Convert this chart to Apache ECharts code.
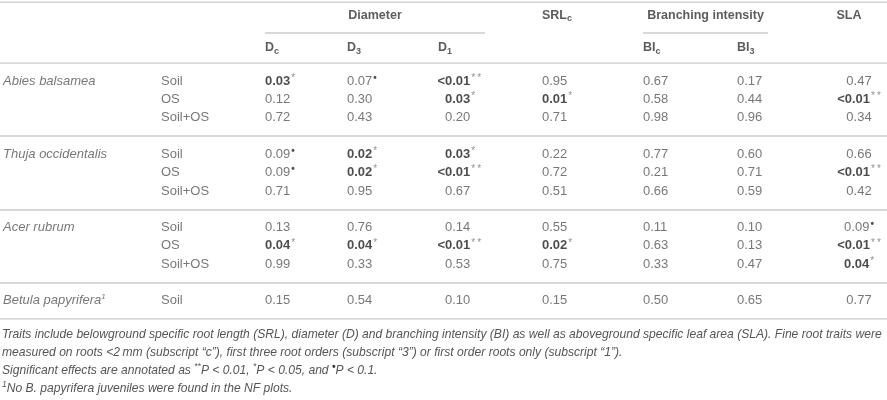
<!DOCTYPE html>
<html>
<head>
<meta charset="utf-8">
<script src="https://cdn.jsdelivr.net/npm/echarts@6/dist/echarts.min.js"></script>
<style>
  html, body { margin: 0; padding: 0; background: #fff; }
  #chart { width: 887px; height: 400px; }
</style>
</head>
<body>
<div id="chart"></div>
<script>
(function () {
  'use strict';

  // ---- table content ----
  var species = ['Abies balsamea', 'Thuja occidentalis', 'Acer rubrum', 'Betula papyrifera'];
  var speciesNote = ['', '', '', '1'];
  var treatments = [
    ['Soil', 'OS', 'Soil+OS'],
    ['Soil', 'OS', 'Soil+OS'],
    ['Soil', 'OS', 'Soil+OS'],
    ['Soil']
  ];
  // p values, one entry per species/treatment row
  var pDc   = ['0.03', '0.12', '0.72', '0.09', '0.09', '0.71', '0.13', '0.04', '0.99', '0.15'];
  var pD3   = ['0.07', '0.30', '0.43', '0.02', '0.02', '0.95', '0.76', '0.04', '0.33', '0.54'];
  var pD1   = ['<0.01', '0.03', '0.20', '0.03', '<0.01', '0.67', '0.14', '<0.01', '0.53', '0.10'];
  var pSRLc = ['0.95', '0.01', '0.71', '0.22', '0.72', '0.51', '0.55', '0.02', '0.75', '0.15'];
  var pBIc  = ['0.67', '0.58', '0.98', '0.77', '0.21', '0.66', '0.11', '0.63', '0.33', '0.50'];
  var pBI3  = ['0.17', '0.44', '0.96', '0.60', '0.71', '0.59', '0.10', '0.13', '0.47', '0.65'];
  var pSLA  = ['0.47', '<0.01', '0.34', '0.66', '<0.01', '0.42', '0.09', '<0.01', '0.04', '0.77'];
  var pTraits = [pDc, pD3, pD1, pSRLc, pBIc, pBI3, pSLA];

  var traitNames = ['D', 'D', 'D', 'SRL', 'BI', 'BI', 'SLA'];
  var traitSubs = ['c', '3', '1', 'c', 'c', '3', ''];
  var groupNames = ['Diameter', 'Branching intensity'];

  var footnotes = [
    'Traits include belowground specific root length (SRL), diameter (D) and branching intensity (BI) as well as aboveground specific leaf area (SLA). Fine root traits were',
    'measured on roots <2\u2009mm (subscript \u201cc\u201d), first three root orders (subscript \u201c3\u201d) or first order roots only (subscript \u201c1\u201d).',
    'Significant effects are annotated as {sup|**}P < 0.01, {sup|*}P < 0.05, and {dot|\u2022}P < 0.1.',
    '{sup|1}No B. papyrifera juveniles were found in the NF plots.'
  ];

  // ---- layout ----
  var W = 887;
  var FONT = '"Liberation Sans", Arial, sans-serif';
  var xSpecies = 3, xTreatment = 161;
  var traitX = [265, 347, 445, 542, 643, 737, 859];
  var traitHeadX = [265, 347, 438, 542, 643, 737, 849];
  var traitAlign = ['left', 'left', 'left', 'left', 'left', 'left', 'center'];
  var groupRule = [[265, 485], [643, 768]];
  var RULE = '#cbcbcb';

  function stars(p) {
    if (p.charAt(0) === '<') return '**';
    var v = parseFloat(p);
    if (v < 0.01) return '**';
    if (v < 0.05) return '*';
    if (v < 0.1) return '\u2022';
    return '';
  }

  function cellText(p, keepPrefix) {
    var s = stars(p);
    var bold = s.indexOf('*') >= 0;
    var num = keepPrefix ? p : p.replace('<', '');
    var out = '{' + (bold ? 'b' : 'n') + '|' + num + '}';
    if (s === '\u2022') out += '{dot|\u2022}';
    else if (s) out += '{st|' + s.split('').join('\u2009') + '}';
    return out;
  }

  // body slots: rule lines between species blocks, one slot each
  var bodySlots = ['rule'];
  var rowSlot = [];
  species.forEach(function (sp, i) {
    treatments[i].forEach(function (t, j) {
      rowSlot.push(bodySlots.length);
      bodySlots.push(i + '-' + j);
    });
    bodySlots.push('rule');
  });
  var headSlots = ['top', 'group', 'groupRule', 'trait', 'bottom'];

  var bodyCells = [];
  var bodyLines = [];
  var k = 0;
  species.forEach(function (sp, i) {
    treatments[i].forEach(function (t, j) {
      var s = rowSlot[k];
      if (j === 0) {
        bodyCells.push({
          value: [xSpecies, s],
          text: '{sp|' + sp + '}' + (speciesNote[i] ? '{spn|' + speciesNote[i] + '}' : ''),
          label: { align: 'left' }
        });
      }
      bodyCells.push({ value: [xTreatment, s], text: '{n|' + t + '}', label: { align: 'left' } });
      pTraits.forEach(function (arr, c) {
        var p = arr[k];
        var centered = traitAlign[c] === 'center';
        bodyCells.push({ value: [traitX[c], s], text: cellText(p, centered), label: { align: traitAlign[c] } });
        if (!centered && p.charAt(0) === '<') {
          bodyCells.push({ value: [traitX[c], s], text: '{b|<}', label: { align: 'right' } });
        }
      });
      k++;
    });
  });
  bodySlots.forEach(function (name, s) {
    if (name === 'rule') bodyLines.push({ coords: [[0, s], [W, s]] });
  });

  function headText(c) {
    return '{h|' + traitNames[c] + '}' + (traitSubs[c] ? '{hs|' + traitSubs[c] + '}' : '');
  }
  var up = [0, -2];
  var headCells = [
    { value: [(groupRule[0][0] + groupRule[0][1]) / 2, 1], text: '{h|' + groupNames[0] + '}', label: { align: 'center', offset: up } },
    { value: [traitHeadX[3], 1], text: headText(3), label: { align: 'left', offset: up } },
    { value: [(groupRule[1][0] + groupRule[1][1]) / 2, 1], text: '{h|' + groupNames[1] + '}', label: { align: 'center', offset: up } },
    { value: [traitHeadX[6], 1], text: headText(6), label: { align: 'center', offset: up } }
  ];
  [0, 1, 2, 4, 5].forEach(function (c) {
    headCells.push({ value: [traitHeadX[c], 3], text: headText(c), label: { align: 'left' } });
  });
  var headLines = [
    { coords: [[0, 0], [W, 0]] },
    { coords: [[groupRule[0][0], 2], [groupRule[0][1], 2]] },
    { coords: [[groupRule[1][0], 2], [groupRule[1][1], 2]] }
  ];

  var rich = {
    n: { fontFamily: FONT, fontSize: 13, color: '#555', lineHeight: 16, verticalAlign: 'middle' },
    b: { fontFamily: FONT, fontSize: 13, fontWeight: 'bold', color: '#1e1e1e', lineHeight: 16, verticalAlign: 'middle' },
    st: { fontFamily: FONT, fontSize: 10, color: '#777', lineHeight: 10, verticalAlign: 'top', padding: [0, 0, 0, 1] },
    dot: { fontFamily: FONT, fontSize: 10, fontWeight: 'bold', color: '#222', lineHeight: 10, verticalAlign: 'top', padding: [0, 0, 0, 1] },
    sp: { fontFamily: FONT, fontSize: 13, fontStyle: 'italic', color: '#555', lineHeight: 16, verticalAlign: 'middle' },
    spn: { fontFamily: FONT, fontSize: 8, fontStyle: 'italic', color: '#555', lineHeight: 9, verticalAlign: 'top' },
    h: { fontFamily: FONT, fontSize: 12.5, fontWeight: 'bold', color: '#333', lineHeight: 16, verticalAlign: 'middle' },
    hs: { fontFamily: FONT, fontSize: 9, fontWeight: 'bold', color: '#333', lineHeight: 9, verticalAlign: 'bottom' }
  };

  function textSeries(data, gridIdx) {
    return {
      type: 'scatter',
      xAxisIndex: gridIdx,
      yAxisIndex: gridIdx,
      symbolSize: 1,
      itemStyle: { color: 'transparent' },
      silent: true,
      data: data,
      label: {
        show: true,
        position: 'inside',
        verticalAlign: 'middle',
        formatter: function (p) { return p.data.text; },
        rich: rich
      }
    };
  }
  function ruleSeries(data, gridIdx) {
    return {
      type: 'lines',
      coordinateSystem: 'cartesian2d',
      xAxisIndex: gridIdx,
      yAxisIndex: gridIdx,
      silent: true,
      lineStyle: { color: RULE, width: 1.5, opacity: 1 },
      data: data
    };
  }

  var chart = echarts.init(document.getElementById('chart'));
  chart.setOption({
    animation: false,
    backgroundColor: '#fff',
    title: {
      left: 2,
      top: 326,
      padding: 0,
      text: footnotes.join('\n'),
      textStyle: {
        fontFamily: FONT,
        fontSize: 12.1,
        fontStyle: 'italic',
        fontWeight: 'normal',
        color: '#555',
        lineHeight: 18,
        rich: {
          sup: { fontFamily: FONT, fontSize: 8.5, fontStyle: 'italic', color: '#555', lineHeight: 9, verticalAlign: 'top' },
          dot: { fontFamily: FONT, fontSize: 10, fontWeight: 'bold', color: '#333', lineHeight: 9, verticalAlign: 'top' }
        }
      }
    },
    grid: [
      { left: 0, right: 0, top: 63, height: 256 },
      { left: 0, right: 0, top: 2, height: 61 }
    ],
    xAxis: [
      { gridIndex: 0, type: 'value', min: 0, max: W, show: false },
      { gridIndex: 1, type: 'value', min: 0, max: W, show: false }
    ],
    yAxis: [
      { gridIndex: 0, type: 'category', data: bodySlots, boundaryGap: false, inverse: true, show: false },
      { gridIndex: 1, type: 'category', data: headSlots, boundaryGap: false, inverse: true, show: false }
    ],
    series: [
      ruleSeries(bodyLines, 0),
      ruleSeries(headLines, 1),
      textSeries(bodyCells, 0),
      textSeries(headCells, 1)
    ]
  });
})();
</script>
</body>
</html>
